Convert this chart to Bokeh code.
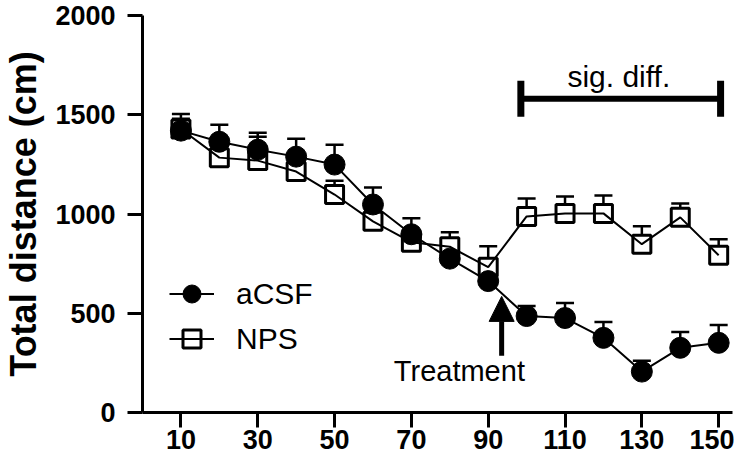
from bokeh.plotting import figure
from bokeh.models import (Range1d, FixedTicker, Whisker, TeeHead, ColumnDataSource,
                          Legend, LegendItem, Arrow, NormalHead, Label)
from bokeh.embed import file_html
from bokeh.resources import INLINE

# ---- data ----
time_min = [10, 20, 30, 40, 50, 60, 70, 80, 90, 100, 110, 120, 130, 140, 150]
acsf_mean = [1420, 1364, 1324, 1289, 1249, 1048, 898, 775, 662, 486, 476, 376, 206, 326, 351]
acsf_sem = [60, 86, 85, 90, 100, 85, 80, 60, 60, 51, 76, 80, 55, 80, 90]
nps_mean = [1428, 1284, 1269, 1214, 1098, 963, 858, 835, 732, 988, 1003, 1003, 848, 983, 792]
nps_sem = [76, 60, 120, 60, 70, 60, 60, 73, 106, 90, 85, 90, 90, 70, 81]
x_ticks = [10, 30, 50, 70, 90, 110, 130, 150]
y_ticks = [0, 500, 1000, 1500, 2000]

sig_label = "sig. diff."
sig_start, sig_end, sig_level = 98.5, 150.5, 1580
sig_text_x, sig_text_y = 124, 1695
treat_label = "Treatment"
treat_x, treat_y_tail, treat_y_tip = 93.5, 286, 585
treat_text_x, treat_text_y = 82.5, 208

FONT = "Liberation Sans"

p = figure(width=734, height=453, output_backend="svg", toolbar_location=None,
           x_range=Range1d(0, 153.6), y_range=Range1d(0, 2000),
           min_border_left=135, min_border_right=2, min_border_top=15, min_border_bottom=41)
p.outline_line_color = None
p.grid.visible = False
p.background_fill_color = "white"
p.border_fill_color = "white"

for ax in (p.xaxis, p.yaxis):
    ax.axis_line_width = 3
    ax.axis_line_color = "black"
    ax.major_tick_line_width = 3
    ax.major_tick_line_color = "black"
    ax.major_tick_out = 15
    ax.major_tick_in = 0
    ax.minor_tick_line_color = None
    ax.major_label_text_font = FONT
    ax.major_label_text_font_style = "bold"
    ax.major_label_text_font_size = "27px"
    ax.major_label_text_color = "black"
p.yaxis.major_label_standoff = 12
p.xaxis.major_label_standoff = 2

p.xaxis.ticker = FixedTicker(ticks=x_ticks)
p.yaxis.ticker = FixedTicker(ticks=y_ticks)
p.yaxis.axis_label = "Total distance (cm)"
p.yaxis.axis_label_text_font = FONT
p.yaxis.axis_label_text_font_style = "bold"
p.yaxis.axis_label_text_font_size = "36px"
p.yaxis.axis_label_text_color = "black"
p.yaxis.axis_label_standoff = 8

src_a = ColumnDataSource(dict(x=time_min, y=acsf_mean,
                              up=[m + s for m, s in zip(acsf_mean, acsf_sem)]))
src_n = ColumnDataSource(dict(x=time_min, y=nps_mean,
                              up=[m + s for m, s in zip(nps_mean, nps_sem)]))

for src in (src_n, src_a):
    w = Whisker(base="x", upper="up", lower="y", source=src, line_width=2.5, line_color="black",
                upper_head=TeeHead(size=18, line_width=2.5, line_color="black"), lower_head=None)
    p.add_layout(w)

sq = p.scatter("x", "y", source=src_n, marker="square", size=18, fill_color="white",
               line_color="black", line_width=3)
ci = p.scatter("x", "y", source=src_a, marker="circle", size=21, fill_color="black",
               line_color="black", line_width=1)
ln_n = p.line("x", "y", source=src_n, line_width=2, line_color="black")
ln_a = p.line("x", "y", source=src_a, line_width=2, line_color="black")

# significance bar
sig = Whisker(base=sig_level, lower=sig_start, upper=sig_end, dimension="width",
              line_width=6, line_color="black",
              lower_head=TeeHead(size=36, line_width=7, line_color="black"),
              upper_head=TeeHead(size=36, line_width=7, line_color="black"))
p.add_layout(sig)
p.add_layout(Label(x=sig_text_x, y=sig_text_y, text=sig_label, text_align="center",
                   text_baseline="alphabetic", text_font=FONT, text_font_size="30px",
                   text_color="black"))

# treatment arrow
p.add_layout(Arrow(x_start=treat_x, y_start=treat_y_tail, x_end=treat_x, y_end=treat_y_tip,
                   line_width=5, line_color="black",
                   end=NormalHead(size=25, fill_color="black", line_color="black", line_width=1)))
p.add_layout(Label(x=treat_text_x, y=treat_text_y, text=treat_label, text_align="center",
                   text_baseline="alphabetic", text_font=FONT, text_font_size="29px",
                   text_color="black"))

legend = Legend(items=[LegendItem(label="aCSF", renderers=[ci, ln_a]),
                       LegendItem(label="NPS", renderers=[sq, ln_n])],
                location=(27, 51), glyph_width=45, glyph_height=45, spacing=-5,
                label_standoff=22, padding=0, margin=0, border_line_color=None,
                background_fill_alpha=0, label_text_font=FONT, label_text_font_size="30px",
                label_text_color="black")
p.add_layout(legend)

open("out.html", "w").write(file_html(p, INLINE))
